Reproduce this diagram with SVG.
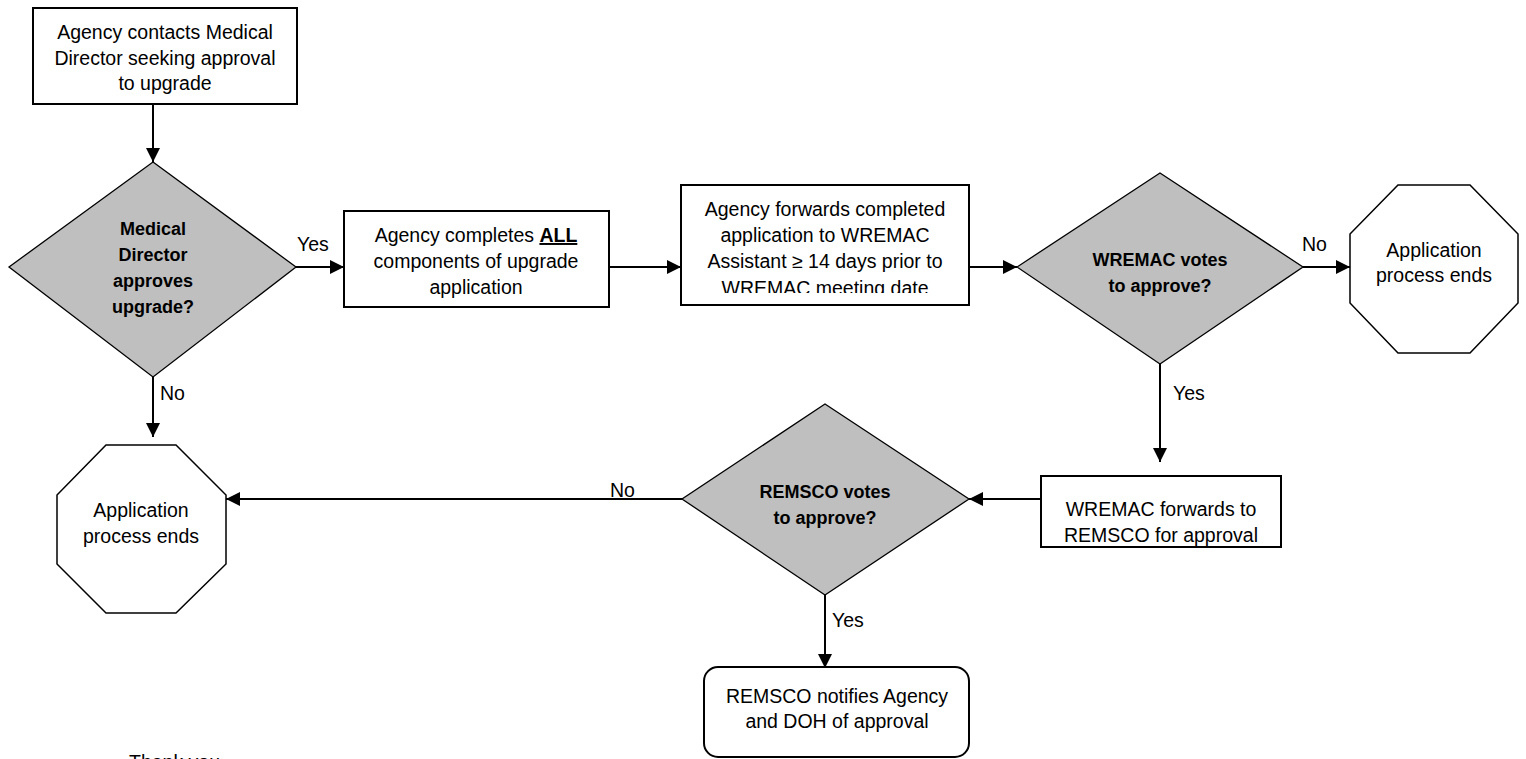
<svg xmlns="http://www.w3.org/2000/svg" width="1526" height="759" viewBox="0 0 1526 759">
<defs>
<marker id="arr" viewBox="0 0 14 14" refX="14" refY="7" markerWidth="14" markerHeight="14" markerUnits="userSpaceOnUse" orient="auto"><path d="M0,0 L14,7 L0,14 z" fill="#000"/></marker>
<clipPath id="clip3"><rect x="681" y="186" width="288" height="107"/></clipPath>
</defs>
<style>
.box{fill:#fff;stroke:#000;stroke-width:2}
.dec{fill:#BFBFBF;stroke:#000;stroke-width:1.3}
.oct{fill:#fff;stroke:#000;stroke-width:1.5}
.t{font-family:"Liberation Sans",Arial,sans-serif;font-size:19.5px;fill:#000;text-anchor:middle}
.b{font-weight:bold;font-size:18px}
.lbl{font-family:"Liberation Sans",Arial,sans-serif;font-size:19.5px;fill:#000}
.c{fill:none;stroke:#000;stroke-width:2;marker-end:url(#arr)}
</style>
<rect x="0" y="0" width="1526" height="759" fill="#fff"/>
<g id="connectors">
<path class="c" d="M153,104 V162"/>
<path class="c" d="M296,267 H344"/>
<path class="c" d="M609,267 H681"/>
<path class="c" d="M969,267 H1017"/>
<path class="c" d="M1303,267 H1350"/>
<path class="c" d="M1160,364 V462"/>
<path class="c" d="M1041,499 H969"/>
<path class="c" d="M682,499 H226"/>
<path class="c" d="M153,377 V437"/>
<path class="c" d="M825,595 V668"/>
<text class="lbl" x="297" y="251">Yes</text>
<text class="lbl" x="160" y="400">No</text>
<text class="lbl" x="1302" y="251">No</text>
<text class="lbl" x="1173" y="400">Yes</text>
<text class="lbl" x="610" y="497">No</text>
<text class="lbl" x="832" y="627">Yes</text>
</g>
<g id="n1">
<rect class="box" x="33" y="8" width="264" height="96"/>
<text class="t" x="165" y="39">Agency contacts Medical</text>
<text class="t" x="165" y="65">Director seeking approval</text>
<text class="t" x="165" y="90">to upgrade</text>
</g>
<g id="d1">
<polygon class="dec" points="153,162 296,267 153,377 9,267"/>
<text class="t b" x="153" y="235">Medical</text>
<text class="t b" x="153" y="261">Director</text>
<text class="t b" x="153" y="287">approves</text>
<text class="t b" x="153" y="313">upgrade?</text>
</g>
<g id="n2">
<rect class="box" x="344" y="211" width="265" height="96"/>
<text class="t" x="476" y="242">Agency completes <tspan font-weight="bold" text-decoration="underline">ALL</tspan></text>
<text class="t" x="476" y="268">components of upgrade</text>
<text class="t" x="476" y="294">application</text>
</g>
<g id="n3">
<rect class="box" x="681" y="185" width="288" height="120"/>
<g clip-path="url(#clip3)">
<text class="t" x="825" y="216">Agency forwards completed</text>
<text class="t" x="825" y="242">application to WREMAC</text>
<text class="t" x="825" y="268">Assistant ≥ 14 days prior to</text>
<text class="t" x="825" y="295">WREMAC meeting date</text>
</g>
</g>
<g id="d2">
<polygon class="dec" points="1160,173 1303,267 1160,364 1017,267"/>
<text class="t b" x="1160" y="266">WREMAC votes</text>
<text class="t b" x="1160" y="292">to approve?</text>
</g>
<g id="end1">
<polygon class="oct" points="1398,185 1470,185 1518,234 1518,303 1470,353 1398,353 1350,303 1350,234"/>
<text class="t" x="1434" y="257">Application</text>
<text class="t" x="1434" y="282">process ends</text>
</g>
<g id="n4">
<rect class="box" x="1041" y="476" width="240" height="71"/>
<text class="t" x="1161" y="516">WREMAC forwards to</text>
<text class="t" x="1161" y="542">REMSCO for approval</text>
</g>
<g id="d3">
<polygon class="dec" points="825,404 969,499 825,595 682,499"/>
<text class="t b" x="825" y="498">REMSCO votes</text>
<text class="t b" x="825" y="524">to approve?</text>
</g>
<g id="end2">
<polygon class="oct" points="106,445 176,445 226,495 226,564 176,613 106,613 57,564 57,495"/>
<text class="t" x="141" y="517">Application</text>
<text class="t" x="141" y="543">process ends</text>
</g>
<g id="n5">
<rect class="box" x="704" y="667" width="265" height="90" rx="14" ry="14"/>
<text class="t" x="837" y="703">REMSCO notifies Agency</text>
<text class="t" x="837" y="728">and DOH of approval</text>
</g>
<g id="footer">
<text class="lbl" x="129" y="769" font-size="22">Thank you</text>
</g>
</svg>
